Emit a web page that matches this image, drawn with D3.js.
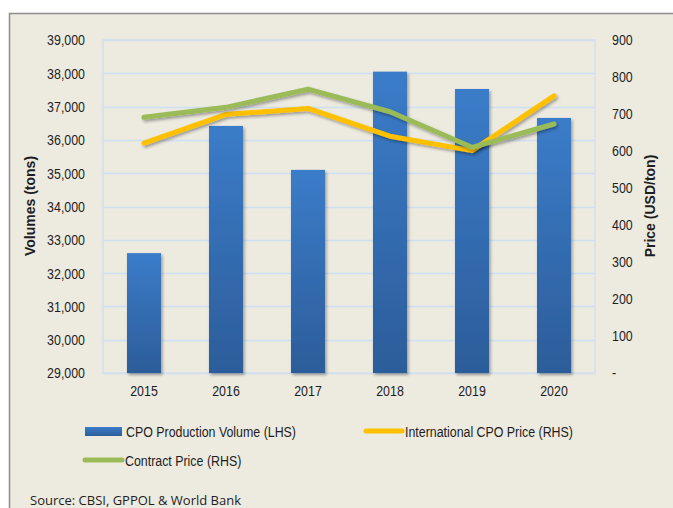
<!DOCTYPE html>
<html>
<head>
<meta charset="utf-8">
<script src="https://cdn.jsdelivr.net/npm/d3@7"></script>
<style>
  body { margin: 0; background: #fff; }
  text { font-family: "Liberation Sans", Arial, sans-serif; fill: #1e1e1e; }
</style>
</head>
<body>
<div id="chart"></div>
<script>
// data
var years = ["2015", "2016", "2017", "2018", "2019", "2020"];
var volume = [32600, 36420, 35100, 38050, 37530, 36660];
var intlPrice = [621, 699, 715, 640, 601, 749];
var contractPrice = [691, 718, 767, 706, 610, 673];
var volTicks = [29000, 30000, 31000, 32000, 33000, 34000, 35000, 36000, 37000, 38000, 39000];
var priceTicks = [0, 100, 200, 300, 400, 500, 600, 700, 800, 900];

const width = 673, height = 508;
const plot = {left: 103, right: 595, top: 40, bottom: 373};
const squeeze = 0.8; // mimic a narrow font

var svg = d3.select("#chart").append("svg")
    .attr("width", width)
    .attr("height", height);

var defs = svg.append("defs");

var grad = defs.append("linearGradient")
    .attr("id", "barGrad")
    .attr("x1", "0%").attr("y1", "0%")
    .attr("x2", "0%").attr("y2", "100%");
grad.append("stop").attr("offset", "0%").style("stop-color", "#3b7cc9");
grad.append("stop").attr("offset", "100%").style("stop-color", "#2c5d9a");

var shadow = defs.append("filter")
    .attr("id", "shadow")
    .attr("x", "-20%").attr("y", "-20%")
    .attr("width", "140%").attr("height", "140%");
shadow.append("feDropShadow")
    .attr("dx", 1.5).attr("dy", 2)
    .attr("stdDeviation", 1.5)
    .attr("flood-color", "#000")
    .attr("flood-opacity", 0.35);

// squeeze text horizontally around its own x
function narrow(sel) {
    sel.each(function () {
        var t = d3.select(this);
        var tx = +t.attr("x") || 0;
        t.attr("x", 0)
            .attr("transform", `translate(${tx},0) scale(${squeeze},1)`);
    });
}

// outer frame
svg.append("rect")
    .attr("x", 9.5).attr("y", 13.5)
    .attr("width", width).attr("height", height)
    .attr("fill", "#edeae0")
    .attr("stroke", "#8c8c8c")
    .attr("stroke-width", 1.5);

var x = d3.scaleBand()
    .domain(years)
    .range([plot.left, plot.right])
    .paddingInner(0.585)
    .paddingOuter(0.2925);

var yL = d3.scaleLinear().domain([29000, 39000]).range([plot.bottom, plot.top]);
var yR = d3.scaleLinear().domain([0, 900]).range([plot.bottom, plot.top]);

// gridlines
svg.append("g")
    .selectAll("line")
    .data(volTicks)
    .enter()
    .append("line")
    .attr("x1", plot.left).attr("x2", plot.right)
    .attr("y1", d => Math.round(yL(d)) + 0.5)
    .attr("y2", d => Math.round(yL(d)) + 0.5)
    .attr("stroke", "#cddff2")
    .attr("stroke-width", 1.5);

svg.append("rect")
    .attr("x", plot.left).attr("y", plot.top)
    .attr("width", plot.right - plot.left)
    .attr("height", plot.bottom - plot.top)
    .attr("fill", "none")
    .attr("stroke", "#d2e0ee")
    .attr("stroke-width", 1.5);

// left axis
var leftAxis = svg.append("g")
    .attr("transform", `translate(${plot.left},0)`)
    .call(d3.axisLeft(yL).tickValues(volTicks).tickFormat(d3.format(",")).tickSize(0).tickPadding(18));
leftAxis.select(".domain").remove();
leftAxis.selectAll("text").style("font-size", "15.5px").style("font-family", null).call(narrow);

// right axis
var rightAxis = svg.append("g")
    .attr("transform", `translate(${plot.right},0)`)
    .call(d3.axisRight(yR).tickValues(priceTicks)
        .tickFormat(d => d === 0 ? "-" : d).tickSize(0).tickPadding(17));
rightAxis.select(".domain").remove();
rightAxis.selectAll("text").style("font-size", "15.5px").style("font-family", null).call(narrow);

// bottom axis
var bottomAxis = svg.append("g")
    .attr("transform", `translate(0,${plot.bottom})`)
    .call(d3.axisBottom(x).tickSize(0).tickPadding(12));
bottomAxis.select(".domain").remove();
bottomAxis.selectAll("text").style("font-size", "15.5px").style("font-family", null).call(narrow);

// axis titles
svg.append("text")
    .attr("transform", "translate(35,206) rotate(-90)")
    .attr("text-anchor", "middle")
    .style("font-weight", "bold")
    .style("font-size", "14px")
    .text("Volumes (tons)");

svg.append("text")
    .attr("transform", "translate(655,206) rotate(-90)")
    .attr("text-anchor", "middle")
    .style("font-weight", "bold")
    .style("font-size", "14px")
    .text("Price (USD/ton)");

// bars
svg.append("g")
    .selectAll("rect")
    .data(volume)
    .enter()
    .append("rect")
    .attr("x", (d, i) => x(years[i]))
    .attr("y", d => yL(d))
    .attr("width", x.bandwidth())
    .attr("height", d => plot.bottom - yL(d))
    .attr("fill", "url(#barGrad)")
    .attr("filter", "url(#shadow)");

// lines
var line = d3.line()
    .x((d, i) => x(years[i]) + x.bandwidth() / 2)
    .y(d => yR(d));

svg.append("path")
    .datum(intlPrice)
    .attr("d", line)
    .attr("fill", "none")
    .attr("stroke", "#ffc000")
    .attr("stroke-width", 5)
    .attr("stroke-linecap", "round")
    .attr("stroke-linejoin", "round")
    .attr("filter", "url(#shadow)");

svg.append("path")
    .datum(contractPrice)
    .attr("d", line)
    .attr("fill", "none")
    .attr("stroke", "#9bbb59")
    .attr("stroke-width", 5)
    .attr("stroke-linecap", "round")
    .attr("stroke-linejoin", "round")
    .attr("filter", "url(#shadow)");

// legend
var legend = svg.append("g").style("font-size", "15.5px");

legend.append("rect")
    .attr("x", 85).attr("y", 427)
    .attr("width", 37).attr("height", 9)
    .attr("fill", "url(#barGrad)");
legend.append("text")
    .attr("x", 126).attr("y", 432).attr("dy", "0.35em")
    .text("CPO Production Volume (LHS)");

legend.append("line")
    .attr("x1", 366).attr("x2", 402)
    .attr("y1", 431).attr("y2", 431)
    .attr("stroke", "#ffc000")
    .attr("stroke-width", 5)
    .attr("stroke-linecap", "round");
legend.append("text")
    .attr("x", 405).attr("y", 432).attr("dy", "0.35em")
    .text("International CPO Price (RHS)");

legend.append("line")
    .attr("x1", 85).attr("x2", 122)
    .attr("y1", 460).attr("y2", 460)
    .attr("stroke", "#9bbb59")
    .attr("stroke-width", 5)
    .attr("stroke-linecap", "round");
legend.append("text")
    .attr("x", 125).attr("y", 461).attr("dy", "0.35em")
    .text("Contract Price (RHS)");

legend.selectAll("text").call(narrow);

// source note
svg.append("text")
    .attr("x", 30).attr("y", 505)
    .style("font-family", "'Open Sans', 'Noto Sans', sans-serif")
    .style("font-size", "13px")
    .text("Source: CBSI, GPPOL & World Bank");
</script>
</body>
</html>
